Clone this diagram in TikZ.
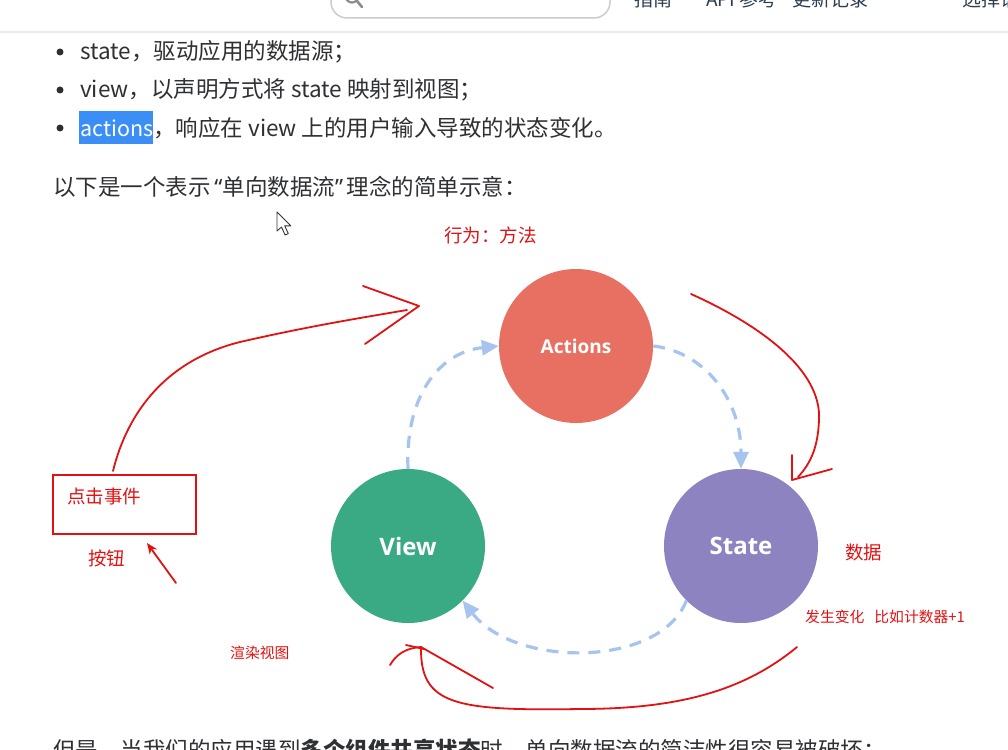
\documentclass[tikz,border=0pt]{standalone}
\usepackage{fontspec}
\newfontfamily\cjk{Noto Sans CJK SC}
\newfontfamily\lat{Noto Sans}
\newfontfamily\lab{Open Sans}
\usetikzlibrary{arrows.meta}
\definecolor{txt}{HTML}{2E3033}
\definecolor{hdr}{HTML}{2C3E50}
\definecolor{hilite}{HTML}{3A8EF6}
\definecolor{actc}{HTML}{E87062}
\definecolor{viewc}{HTML}{3AAA85}
\definecolor{statec}{HTML}{8E83C1}
\definecolor{flowblue}{HTML}{A6C4EE}
\definecolor{annred}{RGB}{226,18,18}
\definecolor{sep}{HTML}{EAEAEA}
\newcommand\myfs[1]{\fontsize{#1}{#1}\selectfont}
\tikzset{
  annot/.style={draw=annred, line width=1.8pt, line cap=round, line join=round},
  flow/.style={draw=flowblue, line width=3.2pt, dash pattern=on 12pt off 9pt,
    -{Triangle[length=17pt,width=15pt]}},
  bubble/.style={circle, minimum size=154pt, inner sep=0pt, text=white, font=\lab\bfseries\myfs{24}},
  redtxt/.style={text=annred, inner sep=0pt, anchor=west, font=\cjk\myfs{18.5}},
  smallred/.style={text=annred, inner sep=0pt, anchor=west, font=\cjk\myfs{14.8}},
  body/.style={text=txt, inner sep=0pt, anchor=west, font=\cjk\myfs{22.5}},
  head/.style={text=hdr, inner sep=0pt, anchor=west, font=\cjk\myfs{19}},
  bullet/.style={circle, fill=txt, inner sep=0pt, minimum size=7pt},
}
\begin{document}
\begin{tikzpicture}[x=1pt,y=-1pt]
\useasboundingbox (0,0) rectangle (1008,749);
\fill[white] (0,0) rectangle (1008,749);

% header (cut off at top, as in the screenshot)
\draw[draw=black!20, line width=1.5pt, rounded corners=16pt] (331,-40) rectangle (610,18);
\draw[draw=black!45, line width=2.2pt] (352,-4) circle (6.5);
\draw[draw=black!45, line width=2.6pt, line cap=round] (357,1) -- (362,7);
\node[head] (h1) at (634,-1) {指南};
\node[head] (h2) at (706,-1) {API 参考};
\node[head] (h3) at (792,-1) {更新记录};
\node[head] (h4) at (962,-1) {选择语言};
\draw[sep, line width=1.5pt] (0,32) -- (1008,32);

% bullets
\node[bullet] (b1) at (60,52) {};
\node[bullet] (b2) at (60,90) {};
\node[bullet] (b3) at (60,128) {};
\node[body] (t1) at (80,52) {state，驱动应用的数据源；};
\node[body] (t2) at (80,90) {view，以声明方式将 state 映射到视图；};
\fill[hilite] (79,111) rectangle (153,144);
\node[body] (t3) at (80,128) {{\color{white}\myfs{21.5}actions}，响应在 view 上的用户输入导致的状态变化。};
\node[body] (t4) at (53,187) {以下是一个表示{\lat\,“}单向数据流{\lat ”\,}理念的简单示意：};
\node[body] (t5) at (53,750) {但是，当我们的应用遇到{\bfseries 多个组件共享状态}时，单向数据流的简洁性很容易被破坏：};

% mouse cursor
\draw[fill=white, draw=black!80, line width=0.9pt, line join=round]
  (277,212) -- ++(0,19) -- ++(4.5,-4) -- ++(3.6,8) -- ++(3.2,-1.4) -- ++(-3.6,-7.8) -- ++(6,0) -- cycle;

% circles
\node[bubble, fill=actc, font=\lab\bfseries\myfs{19}] (actions) at (576,346) {Actions};
\node[bubble, fill=viewc] (view) at (408,546) {View};
\node[bubble, fill=statec] (state) at (741,546) {State};

% dashed flow
\draw[flow] (view.north) .. controls (405,395) and (440,352) .. (actions.west);
\draw[flow] (actions.east) .. controls (705,352) and (741,400) .. (state.north);
\draw[flow] (state.-135) .. controls (660,668) and (515,668) .. (view.-45);

% red annotations
\node[redtxt] (xw) at (444,235) {行为：方法};
\node[draw=annred, line width=2pt, minimum width=143pt, minimum height=59pt, inner sep=0pt] (box) at (124.5,504.5) {};
\node[redtxt] (djsj) at (67,496) {点击事件};
\node[redtxt] (an) at (88,558) {按钮};
\node[redtxt] (sj) at (845,552) {数据};
\node[smallred] (fs) at (805,617) {发生变化\hspace{10pt}比如计数器+1};
\node[smallred] (xr) at (230,653) {渲染视图};

% arrow from box to actions
\coordinate (a1s) at (113,471);
\coordinate (a1e) at (407,310);
\coordinate (a1t) at (419,306);
\draw[annot] (a1s) .. controls (128,410) and (168,360) .. (240,342)
  .. controls (310,326) and (360,318) .. (a1e);
\draw[annot] (363,286) -- (a1t) -- (365,344);

% arrow actions -> state
\coordinate (a2s) at (691,294);
\coordinate (a2t) at (792,480);
\draw[annot] (a2s) .. controls (760,325) and (822,370) .. (819,420)
  .. controls (818,445) and (812,462) .. (798,477);
\draw[annot] (792,455) -- (a2t) -- (832,469);

% button arrow
\coordinate (a3s) at (176,583);
\coordinate (a3t) at (147,543);
\draw[annot, -{Stealth[length=11pt,width=9pt]}] (a3s) -- (a3t);

% bottom arrow state -> view
\coordinate (a4s) at (797,647);
\coordinate (a4t) at (421,647);
\draw[annot] (a4s) .. controls (745,690) and (680,709) .. (580,709)
  .. controls (455,711) and (420,705) .. (a4t);
\draw[annot] (390,665) .. controls (396,655) and (405,648) .. (a4t) -- (493,688);
\draw[annot] (406,645) -- (424,649);
\end{tikzpicture}
\end{document}
